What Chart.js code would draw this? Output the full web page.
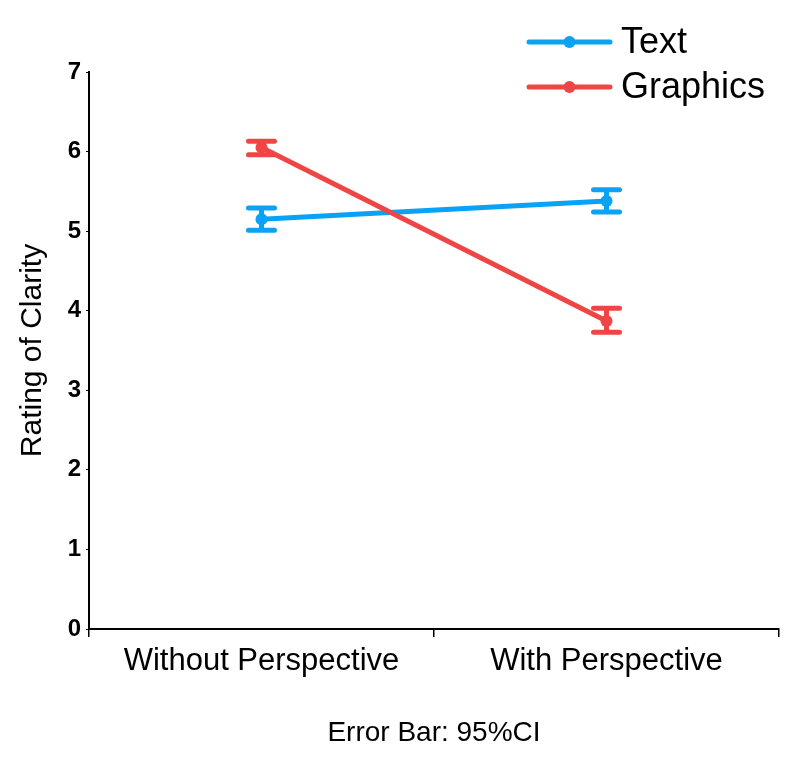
<!DOCTYPE html>
<html>
<head>
<meta charset="utf-8">
<script src="https://cdn.jsdelivr.net/npm/chart.js@4/dist/chart.umd.min.js"></script>
<style>
    html, body { margin: 0; padding: 0; background: #ffffff; }
    #wrap { width: 797px; height: 757px; position: relative; }
</style>
</head>
<body>
<div id="wrap"><canvas id="clarity-chart"></canvas></div>
<script>
"use strict";

// Categories on the x axis and the y ticks.
const categories = ["Without Perspective", "With Perspective"];
const yTicks = [0, 1, 2, 3, 4, 5, 6, 7];

// Means with their 95% CI bounds.
const textMeans = [5.15, 5.38];
const textLower = [5.01, 5.24];
const textUpper = [5.29, 5.52];

const graphicsMeans = [6.05, 3.87];
const graphicsLower = [5.96, 3.73];
const graphicsUpper = [6.13, 4.03];

const blue = "#0aa2f5";
const red = "#f04545";
const fontFamily = "'Liberation Sans', Arial, sans-serif";

// Error bars: a vertical stem with two flat caps, drawn under the lines.
const errorBars = {
    id: "errorBars",
    beforeDatasetsDraw(chart) {
        const ctx = chart.ctx;
        const xScale = chart.scales.x;
        const yScale = chart.scales.y;

        ctx.save();
        ctx.lineCap = "round";
        ctx.lineWidth = 5;
        chart.data.datasets.forEach((dataset) => {
            ctx.strokeStyle = dataset.borderColor;
            dataset.lower.forEach((low, i) => {
                const x = xScale.getPixelForValue(i);
                const yLow = yScale.getPixelForValue(low);
                const yHigh = yScale.getPixelForValue(dataset.upper[i]);
                ctx.beginPath();
                ctx.moveTo(x, yLow);
                ctx.lineTo(x, yHigh);
                ctx.moveTo(x - 13, yLow);
                ctx.lineTo(x + 13, yLow);
                ctx.moveTo(x - 13, yHigh);
                ctx.lineTo(x + 13, yHigh);
                ctx.stroke();
            });
        });
        ctx.restore();
    }
};

// Legend in the top right corner: a line with a dot, then the label.
const lineLegend = {
    id: "lineLegend",
    afterDraw(chart) {
        const ctx = chart.ctx;
        const left = 529;
        const right = 610;
        ctx.save();
        ctx.font = "36px " + fontFamily;
        ctx.textBaseline = "middle";
        ctx.lineCap = "round";
        chart.data.datasets.forEach((dataset, i) => {
            const y = 42 + i * 45;
            ctx.strokeStyle = dataset.borderColor;
            ctx.fillStyle = dataset.borderColor;
            ctx.lineWidth = 5;
            ctx.beginPath();
            ctx.moveTo(left, y);
            ctx.lineTo(right, y);
            ctx.stroke();
            ctx.beginPath();
            ctx.arc((left + right) / 2, y, 6, 0, Math.PI * 2);
            ctx.fill();
            ctx.fillStyle = "#000000";
            ctx.fillText(dataset.label, 621, y + 1);
        });
        ctx.restore();
    }
};

const data = {
    labels: categories,
    datasets: [
        {
            label: "Text",
            data: textMeans,
            lower: textLower,
            upper: textUpper,
            borderColor: blue,
            backgroundColor: blue,
            order: 1
        },
        {
            label: "Graphics",
            data: graphicsMeans,
            lower: graphicsLower,
            upper: graphicsUpper,
            borderColor: red,
            backgroundColor: red,
            order: 0
        }
    ]
};

const config = {
    type: "line",
    data: data,
    options: {
        responsive: true,
        maintainAspectRatio: false,
        animation: false,
        layout: {
            padding: { top: 72, right: 18, bottom: 0, left: 0 }
        },
        elements: {
            line: { borderWidth: 5, tension: 0 },
            point: { radius: 6, borderWidth: 0 }
        },
        scales: {
            x: {
                type: "category",
                offset: true,
                afterFit(scale) { scale.height = 128; },
                grid: {
                    offset: true,
                    drawOnChartArea: false,
                    color: "#000000",
                    lineWidth: 1.5,
                    tickLength: 8
                },
                border: { color: "#000000", width: 2 },
                ticks: {
                    color: "#000000",
                    padding: 6,
                    font: { family: fontFamily, size: 31 }
                },
                title: {
                    display: true,
                    text: "Error Bar: 95%CI",
                    color: "#000000",
                    padding: { top: 0, bottom: 7 },
                    font: { family: fontFamily, size: 28 }
                }
            },
            y: {
                min: yTicks[0],
                max: yTicks[yTicks.length - 1],
                afterFit(scale) { scale.width = 89; },
                afterBuildTicks(scale) { scale.ticks = yTicks.map((v) => ({ value: v })); },
                grid: {
                    drawOnChartArea: false,
                    color: "#000000",
                    lineWidth: 1,
                    tickLength: 3
                },
                border: { color: "#000000", width: 2 },
                ticks: {
                    color: "#000000",
                    padding: 5,
                    font: { family: fontFamily, size: 24, weight: "bold" }
                },
                title: {
                    display: true,
                    text: "Rating of Clarity",
                    color: "#000000",
                    padding: { top: 15, bottom: 0 },
                    font: { family: fontFamily, size: 30 }
                }
            }
        },
        plugins: {
            legend: { display: false },
            tooltip: { enabled: false }
        }
    },
    plugins: [errorBars, lineLegend]
};

new Chart(document.getElementById("clarity-chart"), config);
</script>
</body>
</html>
